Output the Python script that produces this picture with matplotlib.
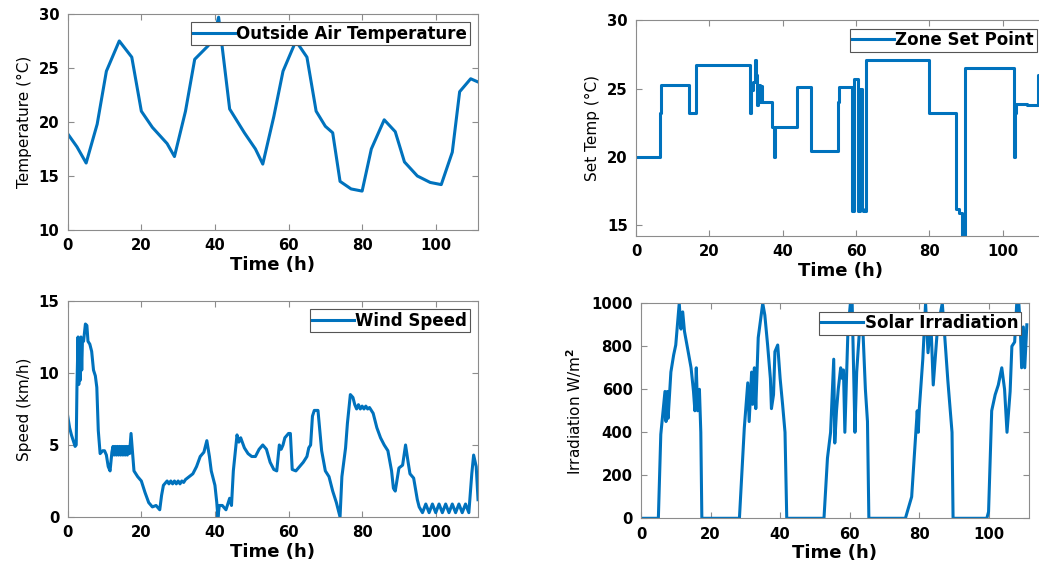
import matplotlib
matplotlib.use('Agg')
import matplotlib.pyplot as plt

# outside air temperature (deg C)
temp_t = [0, 2.5, 5, 8, 10.5, 14, 17.4, 20, 23, 27,
          29, 32, 34.5, 38, 39.5, 41, 44, 48, 51, 53,
          56, 58.5, 62, 65, 67.5, 70, 72, 74, 77, 80,
          82.5, 86, 89, 91.5, 95, 98.5, 101.5, 104.5, 106.5, 109.5,
          111.5]
temp_v = [18.9, 17.7, 16.2, 19.8, 24.7, 27.5, 26.0, 21.0, 19.5, 18.0,
          16.8, 21.0, 25.8, 27.0, 27.6, 29.7, 21.2, 19.0, 17.5, 16.1,
          20.5, 24.7, 27.5, 26.0, 21.0, 19.6, 19.0, 14.5, 13.8, 13.6,
          17.5, 20.2, 19.1, 16.3, 15.0, 14.4, 14.2, 17.2, 22.8, 24.0,
          23.7]

# zone set point (step changes)
sp_t = [0, 6.5, 6.9, 14.5, 16.5, 31.0, 31.3, 32.0, 32.5, 32.8,
        33.1, 33.4, 33.7, 34.0, 34.3, 37.0, 37.6, 38.0, 44.0, 47.6,
        55.0, 55.3, 58.8, 59.5, 60.6, 61.0, 61.5, 61.8, 62.8, 80.0,
        87.3, 88.0, 89.0, 89.6, 103.0, 103.3, 103.6, 106.5, 109.6, 111.5]
sp_v = [20.0, 23.2, 25.3, 23.2, 26.7, 23.2, 24.9, 25.5, 27.1, 26.0,
        23.8, 25.3, 24.0, 25.2, 24.0, 22.2, 20.0, 22.2, 25.1, 20.4,
        24.0, 25.1, 16.0, 25.7, 16.0, 25.0, 16.2, 16.0, 27.1, 23.2,
        16.2, 15.9, 14.2, 26.5, 20.0, 23.2, 23.9, 23.8, 26.0, 26.0]

# wind speed (km/h)
wind_t = [0, 0.5, 1, 1.5, 2, 2.3, 2.5, 2.8, 3.0, 3.2,
          3.4, 3.6, 3.8, 4.0, 4.3, 4.8, 5.2, 5.5, 6.0, 6.5,
          7.0, 7.5, 7.9, 8.3, 8.8, 9.5, 10.0, 10.5, 11.0, 11.5,
          12.0, 12.3, 12.6, 12.9, 13.2, 13.5, 13.8, 14.1, 14.4, 14.7,
          15.0, 15.3, 15.6, 15.9, 16.2, 16.5, 16.8, 17.2, 17.6, 18.0,
          19, 20, 21, 22, 23, 24, 25, 25.5, 26, 27,
          27.5, 28, 28.5, 29, 29.5, 30, 30.5, 31, 31.5, 32,
          33, 34, 35, 36, 37, 37.8, 38.5, 39, 40, 40.5,
          40.8, 41.2, 42, 43, 44, 44.5, 45, 46, 46.5, 47,
          48, 49, 50, 51, 52, 53, 54, 55, 56, 56.8,
          57.5, 58, 58.5, 59, 60, 60.5, 61, 62, 63, 64,
          65, 65.5, 66, 66.5, 67, 68, 68.5, 69, 70, 71,
          72, 73, 74, 74.5, 75.5, 76, 76.8, 77.5, 78, 78.5,
          79, 79.5, 80, 80.5, 81, 81.5, 82, 83, 84, 85,
          86, 87, 88, 88.5, 89, 90, 91, 91.8, 92.5, 93,
          94, 95, 95.5, 96.4, 97.3, 98.2, 99.1, 100, 100.9, 101.8,
          102.7, 103.6, 104.5, 105.4, 106.3, 107.2, 108.1, 109, 109.8, 110.3,
          111, 111.5]
wind_v = [7.0, 6.2, 5.7, 5.3, 4.9, 5.0, 9.0, 12.5, 9.2, 12.4,
          9.5, 12.5, 10.2, 12.3, 12.2, 13.4, 13.3, 12.2, 12.0, 11.5,
          10.2, 9.8, 9.0, 6.0, 4.4, 4.6, 4.6, 4.3, 3.5, 3.2,
          4.5, 4.9, 4.3, 4.9, 4.3, 4.9, 4.3, 4.9, 4.3, 4.9,
          4.3, 4.9, 4.3, 4.9, 4.3, 4.9, 4.4, 5.8, 4.5, 3.2,
          2.8, 2.5, 1.7, 1.0, 0.7, 0.8, 0.5, 1.5, 2.2, 2.5,
          2.3, 2.5, 2.3, 2.5, 2.3, 2.5, 2.3, 2.5, 2.4, 2.6,
          2.8, 3.0, 3.5, 4.2, 4.5, 5.3, 4.2, 3.2, 2.2, 1.0,
          0.0, 0.8, 0.8, 0.5, 1.3, 0.8, 3.2, 5.7, 5.2, 5.5,
          4.8, 4.4, 4.2, 4.2, 4.7, 5.0, 4.7, 3.8, 3.3, 3.2,
          5.0, 4.7, 5.0, 5.5, 5.8, 5.8, 3.3, 3.2, 3.5, 3.8,
          4.2, 4.8, 5.0, 7.0, 7.4, 7.4, 6.0, 4.6, 3.2, 2.8,
          1.8, 1.0, 0.0, 2.8, 4.8, 6.5, 8.5, 8.3, 7.8, 7.5,
          7.8, 7.5, 7.7, 7.5, 7.7, 7.5, 7.6, 7.2, 6.2, 5.5,
          5.0, 4.6, 3.2, 2.0, 1.8, 3.4, 3.6, 5.0, 3.8, 3.0,
          2.7, 1.2, 0.7, 0.3, 0.9, 0.3, 0.9, 0.3, 0.9, 0.3,
          0.9, 0.3, 0.9, 0.3, 0.9, 0.3, 0.9, 0.3, 3.0, 4.3,
          3.5, 1.2]

# solar irradiation (W/m2)
sol_t = [0, 5.0, 5.7, 6.9, 7.2, 7.6, 7.8, 8.6, 9.4, 10.0,
         11.0, 11.5, 12.0, 12.5, 13.4, 14.4, 15.1, 15.5, 15.9, 16.3,
         16.8, 17.2, 17.5, 28.3, 29.7, 30.7, 31.1, 31.8, 32.1, 32.6,
         33.0, 33.7, 35.0, 35.6, 36.4, 37.2, 37.5, 38.1, 38.5, 39.3,
         40.0, 40.7, 41.4, 41.9, 52.6, 53.6, 54.5, 55.4, 55.7, 56.2,
         56.7, 57.4, 57.9, 58.2, 58.6, 59.5, 60.2, 60.7, 61.5, 62.0,
         62.7, 63.8, 64.5, 65.1, 65.5, 76.0, 77.8, 79.0, 79.4, 79.7,
         80.0, 81.0, 81.8, 82.5, 83.3, 84.0, 85.2, 86.6, 87.2, 88.2,
         89.4, 89.7, 99.4, 99.9, 100.8, 101.8, 102.7, 103.7, 104.5, 105.2,
         106.1, 106.6, 107.4, 108.0, 108.6, 109.0, 109.4, 109.9, 110.3, 110.9]
sol_v = [0, 0, 390, 590, 450, 590, 465, 680, 760, 806,
         1000, 880, 960, 870, 790, 700, 590, 500, 700, 500,
         600, 400, 0, 0, 420, 630, 450, 680, 530, 700,
         510, 840, 1000, 945, 806, 650, 510, 575, 775, 806,
         650, 530, 400, 0, 0, 280, 400, 740, 350, 500,
         600, 700, 650, 690, 400, 880, 1000, 1000, 400, 680,
         850, 870, 600, 450, 0, 0, 100, 400, 500, 400,
         510, 740, 1000, 770, 920, 620, 880, 1000, 870, 640,
         400, 0, 0, 30, 500, 575, 620, 700, 600, 400,
         590, 800, 820, 1000, 1000, 900, 700, 890, 700, 900]

LINE_COLOR = '#0072BD'
FRAME_COLOR = '#8c8c8c'

plt.rcParams['font.family'] = 'DejaVu Sans'
plt.rcParams['font.weight'] = 'bold'


def style_axis(ax, ylabel, ylim, yticks, label):
    ax.set_xlim(0, 111.5)
    ax.set_ylim(*ylim)
    ax.set_xticks([0, 20, 40, 60, 80, 100])
    ax.set_yticks(yticks)
    ax.tick_params(direction='in', top=True, right=True, length=4,
                   width=0.8, color=FRAME_COLOR, labelsize=10.7,
                   labelcolor='black', pad=6)
    for sp in ax.spines.values():
        sp.set_color(FRAME_COLOR)
        sp.set_linewidth(0.8)
    ax.set_xlabel('Time (h)', fontsize=13, fontweight='bold', labelpad=2)
    ax.set_ylabel(ylabel, fontsize=11, fontweight='normal', labelpad=5)
    leg = ax.legend([label], loc='upper right', fontsize=12,
                    handlelength=2.5, handletextpad=0.1, borderpad=0.15,
                    borderaxespad=0.5, fancybox=False, framealpha=1)
    leg.get_frame().set_edgecolor('#555555')
    leg.get_frame().set_linewidth(0.8)


fig = plt.figure(figsize=(10.39, 5.67), dpi=100)

ax1 = fig.add_axes([0.0652, 0.5944, 0.3949, 0.3810])
ax1.plot(temp_t, temp_v, color=LINE_COLOR, lw=2.2)
style_axis(ax1, 'Temperature (°C)', (10, 30), [10, 15, 20, 25, 30],
           'Outside Air Temperature')

ax2 = fig.add_axes([0.6121, 0.5838, 0.3936, 0.3801])
ax2.plot(sp_t, sp_v, color=LINE_COLOR, lw=2.2, drawstyle='steps-post')
style_axis(ax2, 'Set Temp (°C)', (14.2, 30), [15, 20, 25, 30],
           'Zone Set Point')

ax3 = fig.add_axes([0.0652, 0.0882, 0.3949, 0.3810])
ax3.plot(wind_t, wind_v, color=LINE_COLOR, lw=2.2)
style_axis(ax3, 'Speed (km/h)', (0, 15), [0, 5, 10, 15], 'Wind Speed')

ax4 = fig.add_axes([0.6169, 0.0859, 0.3734, 0.3792])
ax4.plot(sol_t, sol_v, color=LINE_COLOR, lw=2.2)
style_axis(ax4, 'Irradiation W/m$^2$', (0, 1000),
           [0, 200, 400, 600, 800, 1000], 'Solar Irradiation')

fig.savefig('out.png', dpi=100)
